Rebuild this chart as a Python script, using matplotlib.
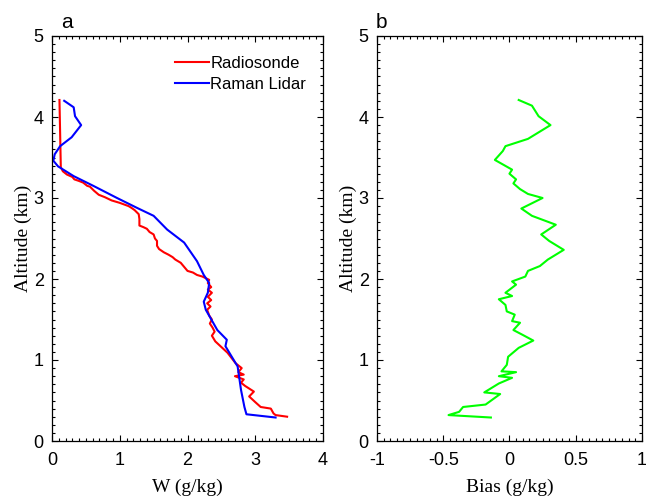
import matplotlib
matplotlib.use('Agg')
import matplotlib.pyplot as plt
from matplotlib.ticker import MultipleLocator

# Radiosonde mixing ratio profile (g/kg) vs altitude (km)
radio_w = [0.11, 0.12, 0.13, 0.16, 0.22, 0.30, 0.33, 0.40, 0.46, 0.52, 0.56, 0.62,
           0.69, 0.78, 0.88, 1.00, 1.13, 1.17, 1.22, 1.28, 1.29, 1.29, 1.35, 1.40,
           1.44, 1.50, 1.52, 1.55, 1.55, 1.58, 1.65, 1.72, 1.78, 1.82, 1.90, 1.95,
           2.00, 2.08, 2.14, 2.22, 2.32, 2.30, 2.35, 2.30, 2.36, 2.30, 2.35, 2.29,
           2.34, 2.29, 2.32, 2.36, 2.33, 2.37, 2.40, 2.36, 2.41, 2.50, 2.59, 2.71,
           2.80, 2.75, 2.83, 2.70, 2.83, 2.79, 2.85, 2.98, 2.91, 3.00, 3.08, 3.23,
           3.27, 3.30, 3.47]
radio_alt = [4.21, 3.80, 3.38, 3.33, 3.29, 3.26, 3.23, 3.21, 3.19, 3.15, 3.14, 3.09,
             3.04, 3.01, 2.97, 2.94, 2.90, 2.88, 2.85, 2.80, 2.74, 2.66, 2.64, 2.62,
             2.58, 2.55, 2.50, 2.47, 2.41, 2.37, 2.33, 2.30, 2.27, 2.24, 2.20, 2.15,
             2.10, 2.08, 2.05, 2.03, 1.99, 1.95, 1.90, 1.87, 1.83, 1.78, 1.74, 1.70,
             1.66, 1.62, 1.55, 1.50, 1.45, 1.40, 1.35, 1.30, 1.23, 1.16, 1.09, 0.96,
             0.90, 0.85, 0.82, 0.80, 0.76, 0.72, 0.68, 0.61, 0.55, 0.48, 0.42, 0.40,
             0.34, 0.32, 0.30]

# Raman lidar profile
lidar_w = [0.18, 0.32, 0.34, 0.43, 0.29, 0.12, 0.04, 0.02, 0.09, 0.32, 0.61, 0.96,
           1.25, 1.50, 1.70, 1.95, 2.14, 2.24, 2.32, 2.30, 2.24, 2.27, 2.44, 2.58,
           2.56, 2.74, 2.79, 2.84, 2.87, 3.30]
lidar_alt = [4.20, 4.12, 4.01, 3.90, 3.75, 3.64, 3.54, 3.46, 3.39, 3.27, 3.15, 3.00,
             2.88, 2.78, 2.61, 2.45, 2.22, 2.05, 1.95, 1.83, 1.72, 1.62, 1.37, 1.25,
             1.17, 0.92, 0.63, 0.42, 0.33, 0.29]

# Bias (lidar - radiosonde)
bias = [0.07, 0.17, 0.22, 0.31, 0.14, -0.03, -0.05, -0.11, 0.02, 0.00, 0.05, 0.03,
        0.08, 0.14, 0.25, 0.09, 0.17, 0.35, 0.24, 0.30, 0.41, 0.29, 0.23, 0.14,
        0.12, 0.02, 0.05, -0.03, 0.02, -0.08, -0.03, -0.02, 0.04, 0.02, 0.08,
        0.03, 0.10, 0.18, 0.07, -0.01, -0.02, -0.06, 0.05, -0.08, 0.02, -0.08,
        -0.19, -0.07, -0.18, -0.35, -0.38, -0.46, -0.14]
bias_alt = [4.21, 4.14, 4.01, 3.90, 3.73, 3.64, 3.58, 3.47, 3.35, 3.30, 3.23, 3.18,
            3.11, 3.05, 3.00, 2.87, 2.78, 2.67, 2.55, 2.47, 2.36, 2.24, 2.16, 2.10,
            2.03, 1.97, 1.93, 1.83, 1.79, 1.75, 1.68, 1.60, 1.56, 1.48, 1.46,
            1.37, 1.31, 1.24, 1.15, 1.04, 0.94, 0.86, 0.85, 0.80, 0.78, 0.71,
            0.60, 0.58, 0.45, 0.42, 0.36, 0.32, 0.29]

sans = 'Liberation Sans'
serif = 'Liberation Serif'

fig = plt.figure(figsize=(6.46, 5.0), dpi=100)
ax1 = fig.add_axes([0.0805, 0.118, 0.4195, 0.81])
ax2 = fig.add_axes([0.5836, 0.118, 0.410, 0.81])


def style_axes(ax, xminor):
    ax.set_ylim(0, 5)
    ax.yaxis.set_major_locator(MultipleLocator(1))
    ax.yaxis.set_minor_locator(MultipleLocator(0.1))
    ax.xaxis.set_minor_locator(MultipleLocator(xminor))
    ax.tick_params(which='both', direction='in', top=True, right=True,
                   labelsize=13, width=0.8)
    ax.tick_params(axis='x', pad=8)
    ax.tick_params(axis='y', pad=6)
    ax.tick_params(which='major', length=4)
    ax.tick_params(which='minor', length=2)
    for lab in ax.get_xticklabels() + ax.get_yticklabels():
        lab.set_fontfamily(sans)
    for sp in ax.spines.values():
        sp.set_linewidth(0.9)
    ax.set_ylabel('Altitude (km)', fontsize=14, fontfamily=serif, labelpad=1)


ax1.plot(radio_w, radio_alt, color='#ff0000', lw=1.5, label='Radiosonde')
ax1.plot(lidar_w, lidar_alt, color='#0000ff', lw=1.5, label='Raman Lidar')
ax1.set_xlim(0, 4)
ax1.xaxis.set_major_locator(MultipleLocator(1))
style_axes(ax1, 0.1)
ax1.set_xlabel('W (g/kg)', fontsize=14, fontfamily=serif, labelpad=7)
ax1.legend(loc='upper right', frameon=False, prop={'family': sans, 'size': 12},
           handlelength=2.0, handletextpad=0.1, borderaxespad=0.2,
           labelspacing=0.35, bbox_to_anchor=(0.975, 0.975))
ax1.text(0.055, 1.01, 'a', transform=ax1.transAxes, fontsize=15,
         fontfamily=sans, ha='center', va='bottom')

ax2.plot(bias, bias_alt, color='#00ff00', lw=1.5)
ax2.set_xlim(-1, 1)
ax2.set_xticks([-1, -0.5, 0, 0.5, 1])
ax2.set_xticklabels(['-1', '-0.5', '0', '0.5', '1'])
style_axes(ax2, 0.05)
ax2.set_xlabel('Bias (g/kg)', fontsize=14, fontfamily=serif, labelpad=7)
ax2.text(0.015, 1.01, 'b', transform=ax2.transAxes, fontsize=15,
         fontfamily=sans, ha='center', va='bottom')

fig.savefig('out.png', dpi=100)
